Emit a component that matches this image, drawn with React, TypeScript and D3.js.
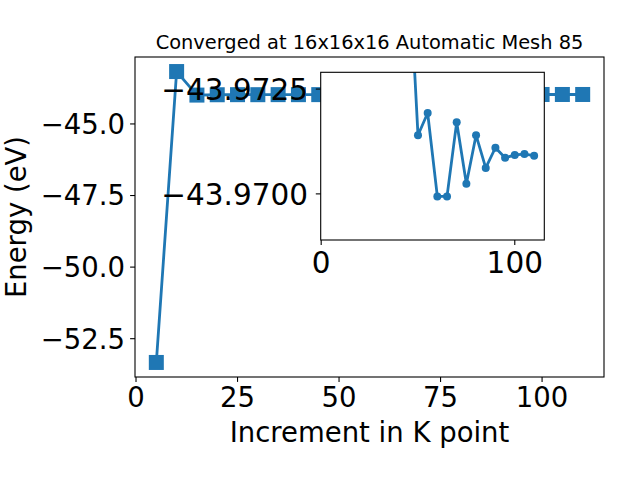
import * as d3 from "d3";

// k-point increments and total energies (eV)
const kpoints = [5, 10, 15, 20, 25, 30, 35, 40, 45, 50, 55, 60, 65, 70, 75, 80, 85, 90, 95, 100, 105, 110];
const energies = [
  -53.33, -43.17, -43.9921, -43.9802, -43.9774, -43.9781, -43.9762, -43.977, -43.9758,
  -43.9714, -43.97193, -43.96994, -43.96994, -43.97171, -43.97024, -43.9714, -43.97062,
  -43.9711, -43.97086, -43.97093, -43.97095, -43.97091,
];

const xTicks = [0, 25, 50, 75, 100];
const yTicks = [-45, -47.5, -50, -52.5];
const insetXTicks = [0, 100];
const insetYTicks = [-43.9725, -43.97];
// inset y limits (inverted: first value at the top)
const insetYLim = [-43.9729, -43.9689];

const title = "Converged at 16x16x16 Automatic Mesh 85";
const xLabel = "Increment in K point";
const yLabel = "Energy (eV)";

const W = 640;
const H = 480;
const blue = "#1f77b4";
const font = "DejaVu Sans, sans-serif";
const minus = (s: string) => s.replace("-", "\u2212");

export default function App() {
  const m = { left: 135, right: 604, top: 57, bottom: 377 };
  const ins = { left: 320.7, right: 544.3, top: 72.3, bottom: 240 };

  const pts = kpoints.map((k, i) => ({ x: k, y: energies[i] }));
  // inset only shows the converged part
  const insetPts = pts.slice(2);

  const [x0, x1] = d3.extent(kpoints) as [number, number];
  const [y0, y1] = d3.extent(energies) as [number, number];
  const xPad = (x1 - x0) * 0.05;
  const yPad = (y1 - y0) * 0.05;

  const x = d3.scaleLinear().domain([x0 - xPad, x1 + xPad]).range([m.left, m.right]);
  const y = d3.scaleLinear().domain([y0 - yPad, y1 + yPad]).range([m.bottom, m.top]);

  const xi = d3.scaleLinear().domain([x0 - xPad, x1 + xPad]).range([ins.left, ins.right]);
  const yi = d3.scaleLinear().domain(insetYLim).range([ins.top, ins.bottom]);

  const line = d3.line<{ x: number; y: number }>().x((d) => x(d.x)).y((d) => y(d.y));
  const lineInset = d3.line<{ x: number; y: number }>().x((d) => xi(d.x)).y((d) => yi(d.y));

  const ms = 15;
  const tick = 4.9;

  return (
    <svg width={W} height={H} style={{ position: "absolute", left: 0, top: 0, background: "#fff" }} fontFamily={font}>
      <defs>
        <clipPath id="mainClip">
          <rect x={m.left} y={m.top} width={m.right - m.left} height={m.bottom - m.top} />
        </clipPath>
        <clipPath id="insetClip">
          <rect x={ins.left} y={ins.top} width={ins.right - ins.left} height={ins.bottom - ins.top} />
        </clipPath>
      </defs>

      {/* main axes */}
      <g clipPath="url(#mainClip)">
        <path d={line(pts) || ""} fill="none" stroke={blue} strokeWidth={2.8} strokeLinejoin="round" />
        {pts.map((d, i) => (
          <rect key={i} x={x(d.x) - ms / 2} y={y(d.y) - ms / 2} width={ms} height={ms} fill={blue} />
        ))}
      </g>
      <rect x={m.left} y={m.top} width={m.right - m.left} height={m.bottom - m.top} fill="none" stroke="#000" strokeWidth={1.1} />

      {xTicks.map((t) => (
        <g key={t}>
          <line x1={x(t)} x2={x(t)} y1={m.bottom} y2={m.bottom + tick} stroke="#000" strokeWidth={1.1} />
          <text x={x(t)} y={407} textAnchor="middle" fontSize={27.5} fill="#000">
            {t}
          </text>
        </g>
      ))}
      {yTicks.map((t) => (
        <g key={t}>
          <line x1={m.left - tick} x2={m.left} y1={y(t)} y2={y(t)} stroke="#000" strokeWidth={1.1} />
          <text x={125} y={y(t)} dy="0.36em" textAnchor="end" fontSize={27.5} fill="#000">
            {minus(t.toFixed(1))}
          </text>
        </g>
      ))}

      <text x={(m.left + m.right) / 2} y={442} textAnchor="middle" fontSize={27.5} fill="#000">
        {xLabel}
      </text>
      <text
        transform={`translate(25.5,${(m.top + m.bottom) / 2}) rotate(-90)`}
        textAnchor="middle"
        fontSize={27.5}
        fill="#000"
      >
        {yLabel}
      </text>
      <text x={(m.left + m.right) / 2} y={48.7} textAnchor="middle" fontSize={19.4} fill="#000">
        {title}
      </text>

      {/* inset axes */}
      <rect x={ins.left} y={ins.top} width={ins.right - ins.left} height={ins.bottom - ins.top} fill="#fff" />
      <g clipPath="url(#insetClip)">
        <path d={lineInset(insetPts) || ""} fill="none" stroke={blue} strokeWidth={2.8} strokeLinejoin="round" />
        {insetPts.map((d, i) => (
          <circle key={i} cx={xi(d.x)} cy={yi(d.y)} r={4} fill={blue} />
        ))}
      </g>
      <rect x={ins.left} y={ins.top} width={ins.right - ins.left} height={ins.bottom - ins.top} fill="none" stroke="#000" strokeWidth={1.1} />

      {insetXTicks.map((t) => (
        <g key={t}>
          <line x1={xi(t)} x2={xi(t)} y1={ins.bottom} y2={ins.bottom + tick} stroke="#000" strokeWidth={1.1} />
          <text x={xi(t)} y={273} textAnchor="middle" fontSize={29.5} fill="#000">
            {t}
          </text>
        </g>
      ))}
      {insetYTicks.map((t) => (
        <g key={t}>
          <line x1={ins.left - tick} x2={ins.left} y1={yi(t)} y2={yi(t)} stroke="#000" strokeWidth={1.1} />
          <text x={308} y={yi(t)} dy="0.36em" textAnchor="end" fontSize={29.5} fill="#000">
            {minus(t.toFixed(4))}
          </text>
        </g>
      ))}
    </svg>
  );
}
